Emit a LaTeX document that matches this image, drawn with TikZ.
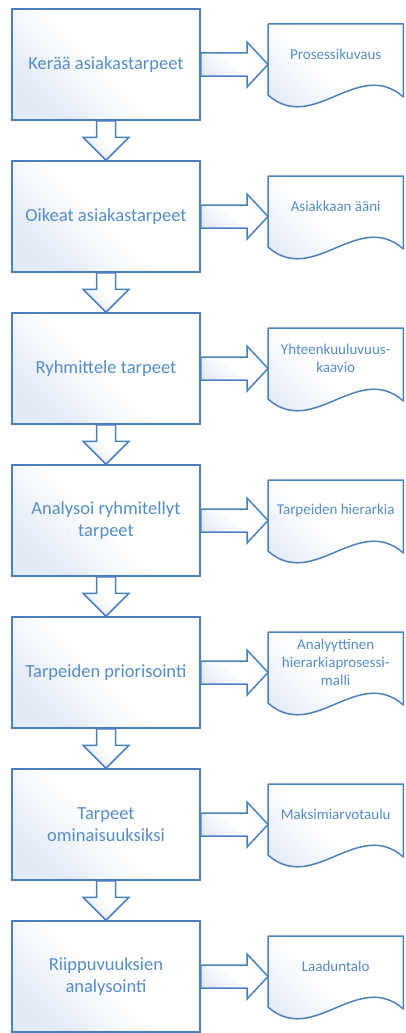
\documentclass[tikz,border=0pt]{standalone}
\usepackage{fontspec}
\setmainfont{Carlito}
\usetikzlibrary{calc,backgrounds}
\definecolor{lineblue}{RGB}{74,128,190}
\definecolor{textblue}{RGB}{84,141,205}
\definecolor{paleblue}{RGB}{226,234,246}
\tikzset{
  % y axis points down here, so 135 puts the tinted end at the upper left
  softfill/.style={top color=paleblue, bottom color=white, middle color=white, shading angle=135},
  stepbox/.style={draw=lineblue, line width=1.5pt, softfill, minimum width=188pt,
    minimum height=111pt, inner sep=0pt, align=center, text=textblue,
    font=\fontsize{18.5}{22}\selectfont},
  docarea/.style={minimum width=135pt, minimum height=60pt, inner sep=0pt,
    align=center, text=textblue, font=\fontsize{15}{18}\selectfont},
  docframe/.style={draw=lineblue, line width=1.5pt, softfill, line join=round},
  blockarrow/.style={draw=lineblue, line width=1.5pt, softfill, line join=miter},
}
\begin{document}
\begin{tikzpicture}[x=1pt, y=-1pt]
\useasboundingbox (0,0) rectangle (405,1033);

% process steps and their output documents
\foreach \i/\btext/\dtext in {
  1/{Kerää asiakastarpeet}/{Prosessikuvaus},
  2/{Oikeat asiakastarpeet}/{Asiakkaan ääni},
  3/{Ryhmittele tarpeet}/{Yhteenkuuluvuus-\\kaavio},
  4/{Analysoi ryhmitellyt\\tarpeet}/{Tarpeiden hierarkia},
  5/{Tarpeiden priorisointi}/{Analyyttinen\\hierarkiaprosessi-\\malli},
  6/{Tarpeet\\ominaisuuksiksi}/{Maksimiarvotaulu},
  7/{Riippuvuuksien\\analysointi}/{Laaduntalo}} {
  \node[stepbox] (b\i) at (106, {64.5+152*(\i-1)}) {\btext};
  \node[docarea, anchor=north west] (d\i) at (268, {24+152*(\i-1)}) {\dtext};
}

% document outlines with wavy bottom edge, behind their texts
\begin{scope}[on background layer]
  \fill[white] (0,0) rectangle (405,1033);
  \foreach \i in {1,...,7} {
    \path[docframe] (d\i.north west) -- (d\i.north east)
      -- ($(d\i.north east)+(0,73)$)
      .. controls ($(d\i.north west)+(90,33)$) and ($(d\i.north west)+(45,111)$)
      .. ($(d\i.north west)+(0,71)$) -- cycle;
  }
\end{scope}

% block arrows from each step to its document
\foreach \i in {1,...,7} {
  \coordinate (s\i) at (b\i.east);
  \coordinate (t\i) at (b\i.east -| d\i.west);
  \path[blockarrow] ($(s\i)+(0,-11.5)$) -- ($(t\i)+(-21,-11.5)$)
    -- ($(t\i)+(-21,-22.5)$) -- (t\i) -- ($(t\i)+(-21,22.5)$)
    -- ($(t\i)+(-21,11.5)$) -- ($(s\i)+(0,11.5)$) -- cycle;
}

% block arrows between consecutive steps
\foreach \i [evaluate=\i as \j using int(\i+1)] in {1,...,6} {
  \path[blockarrow] ($(b\i.south)+(-9.5,0)$) -- ($(b\j.north)+(-9.5,-23)$)
    -- ($(b\j.north)+(-23,-23)$) -- (b\j.north) -- ($(b\j.north)+(23,-23)$)
    -- ($(b\j.north)+(9.5,-23)$) -- ($(b\i.south)+(9.5,0)$) -- cycle;
}
\end{tikzpicture}
\end{document}
